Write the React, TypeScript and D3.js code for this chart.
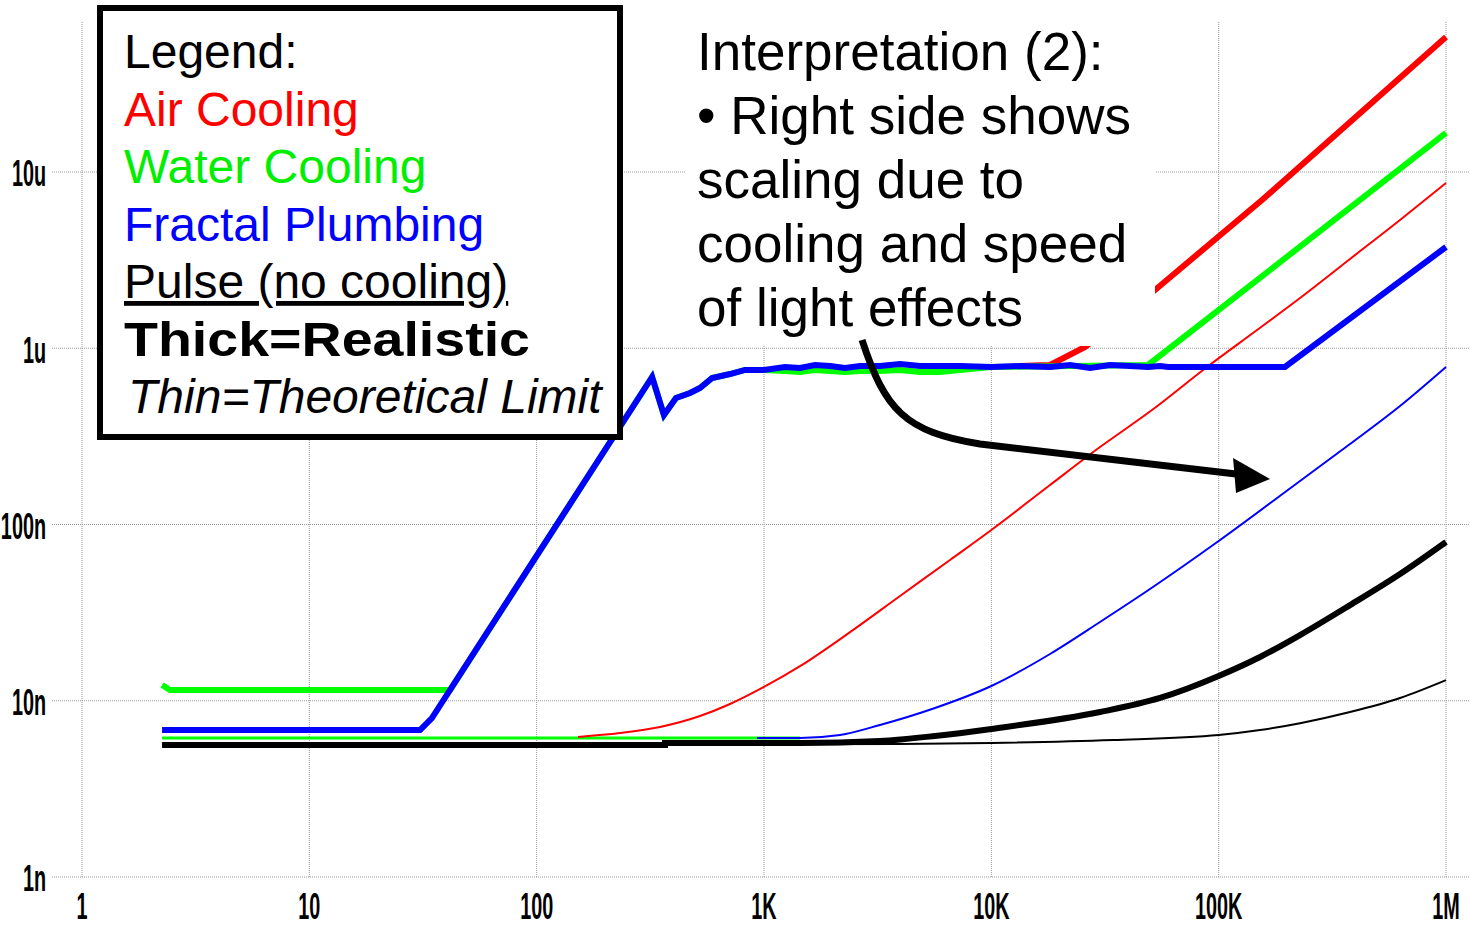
import { useMemo } from 'react';
import * as d3 from 'd3';

// axis ticks (x: frequency-like, y: in units of n)
const xTicks = [1, 10, 100, 1e3, 1e4, 1e5, 1e6];
const xTickLabels = ['1', '10', '100', '1K', '10K', '100K', '1M'];
const yTicks = [1, 10, 100, 1000, 10000];
const yTickLabels = ['1n', '10n', '100n', '1u', '10u'];

// thick lines (realistic)
const airThick: [number, number][] = [
  [13370, 793], [18120, 804], [25850, 1017], [52480, 2141], [155100, 6936], [1e6, 58340],
];
const waterThick: [number, number][] = [
  [2.25, 12.3], [2.44, 11.5], [41.6, 11.5], [322, 687], [363, 418], [410, 522], [473, 557],
  [523, 595], [591, 678], [709, 714], [825, 753], [1000, 753], [1237, 743], [1440, 733],
  [1677, 753], [1952, 743], [2272, 733], [2646, 743], [3238, 743], [3966, 753], [4857, 733],
  [5947, 733], [7282, 753], [10000, 783], [48900, 804], [1e6, 16650],
];
const fractalThick: [number, number][] = [
  [2.25, 6.82], [30.7, 6.82], [34.6, 7.98], [322, 687], [363, 418], [410, 522], [473, 557],
  [523, 595], [591, 678], [709, 714], [825, 753], [1000, 753], [1237, 783], [1440, 773],
  [1677, 804], [1952, 793], [2272, 773], [2646, 793], [3238, 793], [3966, 814], [4857, 793],
  [5947, 793], [7282, 793], [10000, 783], [13370, 793], [18120, 783], [22190, 804],
  [27180, 773], [33280, 804], [40740, 793], [48900, 783], [55210, 793], [60000, 783],
  [195700, 783], [1e6, 3754],
];
const pulseThick: [number, number][] = [
  [2.25, 5.61], [367, 5.61], [367, 5.76], [1440, 5.76], [3238, 5.91], [5652, 6.31],
  [10000, 6.92], [30060, 8.63], [55210, 10.37], [100000, 13.82], [152000, 17.71],
  [228000, 23.6], [378300, 34.9], [627700, 52.4], [1e6, 79.6],
];

// thin lines (theoretical limit)
const waterThin: [number, number][] = [[2.25, 6.15], [1440, 6.15]];
const airThin: [number, number][] = [
  [152, 6.23], [232.5, 6.56], [348.8, 7.1], [523, 8.19], [709, 9.58], [1000, 11.97],
  [1440, 15.7], [2390, 24.5], [3966, 39.3], [6579, 62.9], [10000, 93.1], [18120, 167.5],
  [30060, 275], [50910, 446], [88860, 783], [147500, 1269], [228000, 1928], [378300, 3210],
  [627700, 5343], [1e6, 8664],
];
const fractalThin: [number, number][] = [
  [931, 6.15], [1440, 6.15], [2159, 6.39], [3238, 7.29], [5652, 9.1], [10000, 12.13],
  [18120, 18.42], [30060, 27.98], [49890, 43.05], [100000, 80.6], [228000, 176.6],
  [378300, 286.2], [627700, 470.2], [1e6, 783],
];
const pulseThin: [number, number][] = [
  [2.25, 5.61], [3966, 5.68], [10000, 5.76], [34290, 5.99], [100000, 6.39], [152000, 6.82],
  [228000, 7.46], [378300, 8.63], [627700, 10.37], [1e6, 13.1],
];

// annotation arrow (data coordinates)
const arrowCurve: [number, number][] = [[2699, 1114], [3406, 446], [4172, 334.8], [8917, 286]];
const arrowShaftEnd: [number, number] = [119200, 193.4];
const arrowHead: [number, number][] = [[168200, 181], [115700, 238.4], [119200, 150.9]];

const legendLines = [
  { text: 'Legend:', color: '#000' },
  { text: 'Air Cooling', color: '#ff0000' },
  { text: 'Water Cooling', color: '#00ee00' },
  { text: 'Fractal Plumbing', color: '#0000ff' },
  { text: 'Pulse (no cooling)', color: '#000', underline: true },
  { text: 'Thick=Realistic', color: '#000', bold: true },
  { text: 'Thin=Theoretical Limit', color: '#000', italic: true },
];
const noteLines = [
  'Interpretation (2):',
  '\u2022 Right side shows',
  'scaling due to',
  'cooling and speed',
  'of light effects',
];

export default function App() {
  const W = 1470, H = 926;
  const x = d3.scaleLog().domain([1, 1e6]).range([82, 1446]);
  const y = d3.scaleLog().domain([1, 1e4]).range([877, 172]);

  const line = d3.line<[number, number]>().x(d => x(d[0])).y(d => y(d[1]));
  const smooth = d3.line<[number, number]>().x(d => x(d[0])).y(d => y(d[1])).curve(d3.curveMonotoneX);

  const arrowPath = useMemo(() => {
    const p = arrowCurve.map(d => [x(d[0]), y(d[1])]);
    const e = [x(arrowShaftEnd[0]), y(arrowShaftEnd[1])];
    return `M${p[0][0]},${p[0][1]} C${p[1][0]},${p[1][1]} ${p[2][0]},${p[2][1]} ${p[3][0]},${p[3][1]} L${e[0]},${e[1]}`;
  }, []);
  const headPath = 'M' + arrowHead.map(d => `${x(d[0])},${y(d[1])}`).join('L') + 'Z';

  const font = 'Liberation Sans, Arial, sans-serif';
  const gridStyle = { stroke: '#9a9a9a', strokeWidth: 1, strokeDasharray: '1,1' };

  return (
    <svg width={W} height={H} style={{ position: 'absolute', left: 0, top: 0, background: '#fff' }}>
      {/* grid */}
      {xTicks.map(t => (
        <line key={'gx' + t} x1={x(t)} x2={x(t)} y1={22} y2={877} {...gridStyle} />
      ))}
      {yTicks.map(t => (
        <line key={'gy' + t} x1={52} x2={1470} y1={y(t)} y2={y(t)} {...gridStyle} />
      ))}

      {/* axis labels */}
      {xTicks.map((t, i) => (
        <text key={'lx' + t} transform={`translate(${x(t)},${907}) scale(0.55,1)`} textAnchor="middle"
          dominantBaseline="central" fontFamily={font} fontWeight="bold" fontSize={36}>{xTickLabels[i]}</text>
      ))}
      {yTicks.map((t, i) => (
        <text key={'ly' + t} transform={`translate(46,${y(t) + 2}) scale(0.55,1)`} textAnchor="end"
          dominantBaseline="central" fontFamily={font} fontWeight="bold" fontSize={36}>{yTickLabels[i]}</text>
      ))}

      {/* thin lines */}
      <path d={line(waterThin)!} fill="none" stroke="#00ff00" strokeWidth={3} />
      <path d={smooth(pulseThin)!} fill="none" stroke="#000" strokeWidth={2} />
      <path d={smooth(airThin)!} fill="none" stroke="#ff0000" strokeWidth={2} />
      <path d={smooth(fractalThin)!} fill="none" stroke="#0000ff" strokeWidth={2} />

      {/* thick lines */}
      <path d={smooth(pulseThick)!} fill="none" stroke="#000" strokeWidth={6} />
      <path d={line(airThick)!} fill="none" stroke="#ff0000" strokeWidth={6} />
      <path d={line(waterThick)!} fill="none" stroke="#00ff00" strokeWidth={6} />
      <path d={line(fractalThick)!} fill="none" stroke="#0000ff" strokeWidth={6} />

      {/* legend box */}
      <rect x={100} y={8} width={520} height={429} fill="#fff" stroke="#000" strokeWidth={6} />
      {legendLines.map((l, i) => (
        <text key={l.text} x={l.italic ? 128 : 124} y={68 + i * 57.5} fill={l.color} fontFamily={font}
          fontSize={48} fontWeight={l.bold ? 900 : 'normal'} fontStyle={l.italic ? 'italic' : 'normal'}
          textDecoration={l.underline ? 'underline' : 'none'}
          {...(l.bold ? { textLength: 406, lengthAdjust: 'spacingAndGlyphs' } : {})}>{l.text}</text>
      ))}

      {/* interpretation note */}
      <rect x={685} y={15} width={470} height={331} fill="#fff" />
      {noteLines.map((t, i) => (
        <text key={t} x={697} y={70 + i * 64} fontFamily={font} fontSize={53} fill="#000">{t}</text>
      ))}

      {/* arrow */}
      <path d={arrowPath} fill="none" stroke="#000" strokeWidth={7} />
      <path d={headPath} fill="#000" />
    </svg>
  );
}
